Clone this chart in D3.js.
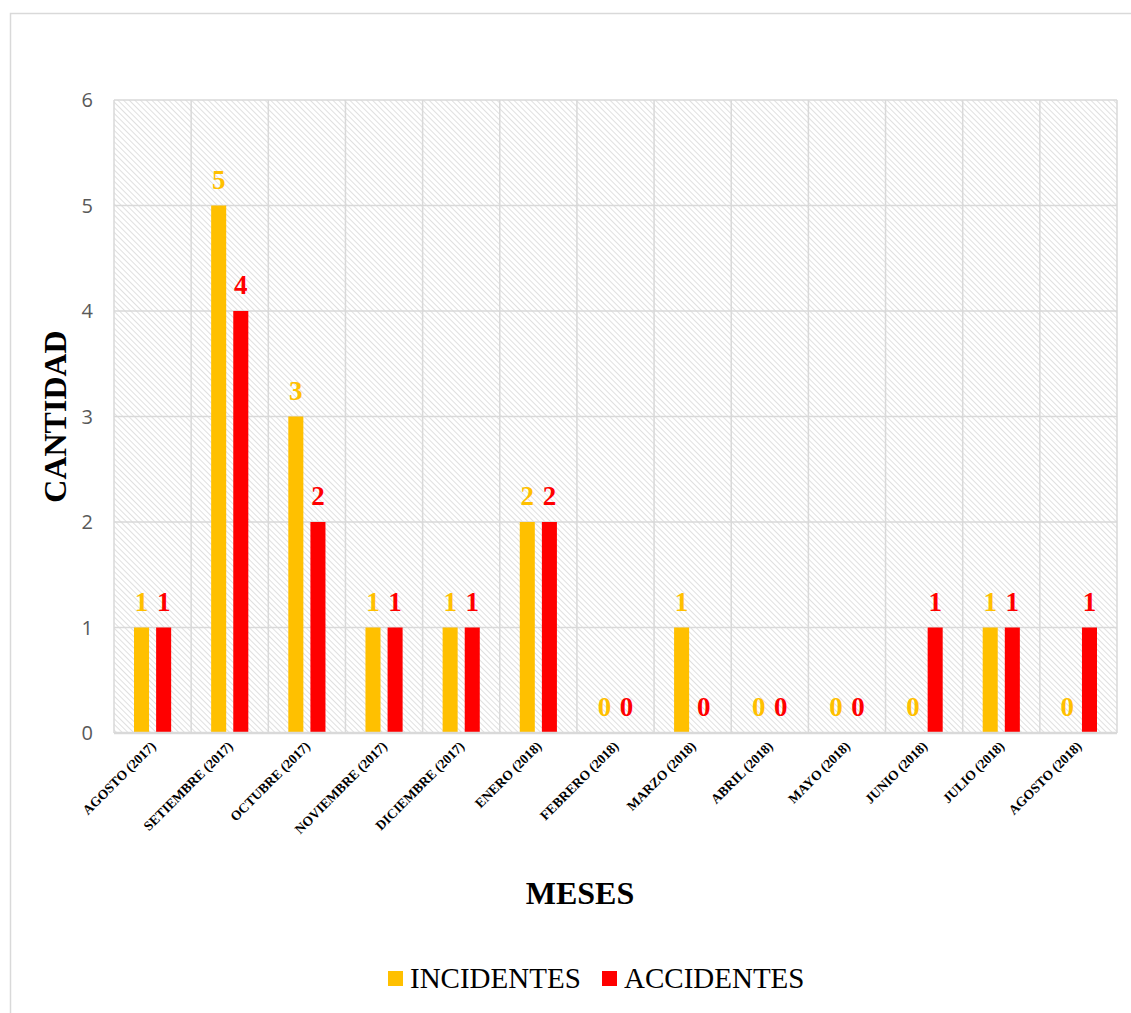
<!DOCTYPE html>
<html>
<head>
<meta charset="utf-8">
<script src="https://cdn.jsdelivr.net/npm/d3@7"></script>
<style>
  body { margin: 0; background: white; }
</style>
</head>
<body>
<svg></svg>
<script>
const months = ["AGOSTO (2017)", "SETIEMBRE (2017)", "OCTUBRE (2017)", "NOVIEMBRE (2017)", "DICIEMBRE (2017)",
    "ENERO (2018)", "FEBRERO (2018)", "MARZO (2018)", "ABRIL (2018)", "MAYO (2018)",
    "JUNIO (2018)", "JULIO (2018)", "AGOSTO (2018)"];
const incidentes = [1, 5, 3, 1, 1, 2, 0, 1, 0, 0, 0, 1, 0];
const accidentes = [1, 4, 2, 1, 1, 2, 0, 0, 0, 0, 1, 1, 1];
const seriesNames = ["INCIDENTES", "ACCIDENTES"];
const seriesColors = ["#FFC000", "#FF0000"];
const yTicks = [0, 1, 2, 3, 4, 5, 6];

const w = 1131;
const h = 1013;
const svg = d3.select("svg").attr("width", w).attr("height", h);

// outer frame
svg.append("rect")
    .attr("x", 10.5).attr("y", 13.5)
    .attr("width", w).attr("height", h)
    .attr("fill", "white").attr("stroke", "#d9d9d9").attr("stroke-width", 1.5);

const defs = svg.append("defs");
const pat = defs.append("pattern")
    .attr("id", "hatch")
    .attr("patternUnits", "userSpaceOnUse")
    .attr("width", 4).attr("height", 4)
    .attr("patternTransform", "rotate(-45)");
pat.append("rect").attr("width", 4).attr("height", 4).attr("fill", "white");
pat.append("line").attr("x1", 0).attr("y1", 0).attr("x2", 0).attr("y2", 4)
    .attr("stroke", "#d9d9d9").attr("stroke-width", 1.6);

const x0 = 114, x1 = 1117, yTop = 100, yBot = 733;

const x = d3.scaleBand().domain(months).range([x0, x1]);
const xs = d3.scaleBand().domain(seriesNames).range([20, x.bandwidth() - 20]).paddingInner(0.32);
const y = d3.scaleLinear().domain([0, 6]).range([yBot, yTop]);

svg.append("rect")
    .attr("x", x0).attr("y", yTop)
    .attr("width", x1 - x0).attr("height", yBot - yTop)
    .attr("fill", "url(#hatch)");

// horizontal grid
svg.append("g").selectAll("line")
    .data(yTicks.filter(d => d > 0))
    .join("line")
    .attr("x1", x0).attr("x2", x1)
    .attr("y1", d => y(d)).attr("y2", d => y(d))
    .attr("stroke", "#d9d9d9").attr("stroke-width", 1.5);

// vertical grid
svg.append("g").selectAll("line")
    .data(d3.range(months.length + 1))
    .join("line")
    .attr("x1", i => x0 + i * x.step()).attr("x2", i => x0 + i * x.step())
    .attr("y1", yTop).attr("y2", yBot)
    .attr("stroke", "#d9d9d9").attr("stroke-width", 1.5);

// y tick labels
svg.append("g").selectAll("text")
    .data(yTicks)
    .join("text")
    .attr("x", 93).attr("y", d => y(d) + 7)
    .attr("text-anchor", "end")
    .attr("font-family", "Open Sans, Calibri, sans-serif")
    .attr("font-size", 20)
    .attr("fill", "#595959")
    .text(d => d);

const rows = months.map((m, i) => ({ month: m, values: [incidentes[i], accidentes[i]] }));

const groups = svg.append("g").selectAll("g")
    .data(rows)
    .join("g")
    .attr("transform", d => `translate(${x(d.month)},0)`);

groups.selectAll("rect")
    .data(d => d.values.map((v, k) => ({ name: seriesNames[k], v, c: seriesColors[k] })))
    .join("rect")
    .attr("x", d => xs(d.name))
    .attr("width", xs.bandwidth())
    .attr("y", d => y(d.v))
    .attr("height", d => yBot - y(d.v))
    .attr("fill", d => d.c);

groups.selectAll("text")
    .data(d => d.values.map((v, k) => ({ name: seriesNames[k], v, c: seriesColors[k] })))
    .join("text")
    .attr("x", d => xs(d.name) + xs.bandwidth() / 2)
    .attr("y", d => y(d.v) - 17)
    .attr("text-anchor", "middle")
    .attr("font-family", "Liberation Serif, Times New Roman, serif")
    .attr("font-weight", "bold")
    .attr("font-size", 27)
    .attr("fill", d => d.c)
    .text(d => d.v);

// baseline
svg.append("line")
    .attr("x1", x0).attr("x2", x1).attr("y1", yBot).attr("y2", yBot)
    .attr("stroke", "#d9d9d9").attr("stroke-width", 2.5);

// x labels
svg.append("g").selectAll("text")
    .data(months)
    .join("text")
    .attr("transform", d => `translate(${x(d) + x.bandwidth() / 2 + 4},${yBot + 14}) rotate(-45)`)
    .attr("text-anchor", "end")
    .attr("font-family", "Liberation Serif, Times New Roman, serif")
    .attr("font-weight", "bold")
    .attr("font-size", 13.5)
    .attr("fill", "black")
    .text(d => d);

svg.append("text")
    .attr("transform", `translate(66,${(yTop + yBot) / 2}) rotate(-90)`)
    .attr("text-anchor", "middle")
    .attr("font-family", "Liberation Serif, Times New Roman, serif")
    .attr("font-weight", "bold")
    .attr("font-size", 32)
    .text("CANTIDAD");

svg.append("text")
    .attr("x", 580).attr("y", 904)
    .attr("text-anchor", "middle")
    .attr("font-family", "Liberation Serif, Times New Roman, serif")
    .attr("font-weight", "bold")
    .attr("font-size", 32)
    .text("MESES");

// legend
const legendX = [388, 602];
const leg = svg.append("g").selectAll("g")
    .data(seriesNames)
    .join("g")
    .attr("transform", (d, i) => `translate(${legendX[i]},971)`);
leg.append("rect").attr("width", 15).attr("height", 15)
    .attr("fill", (d, i) => seriesColors[i]);
leg.append("text")
    .attr("x", 22).attr("y", 17)
    .attr("font-family", "Liberation Serif, Times New Roman, serif")
    .attr("font-size", 29)
    .text(d => d);
</script>
</body>
</html>
